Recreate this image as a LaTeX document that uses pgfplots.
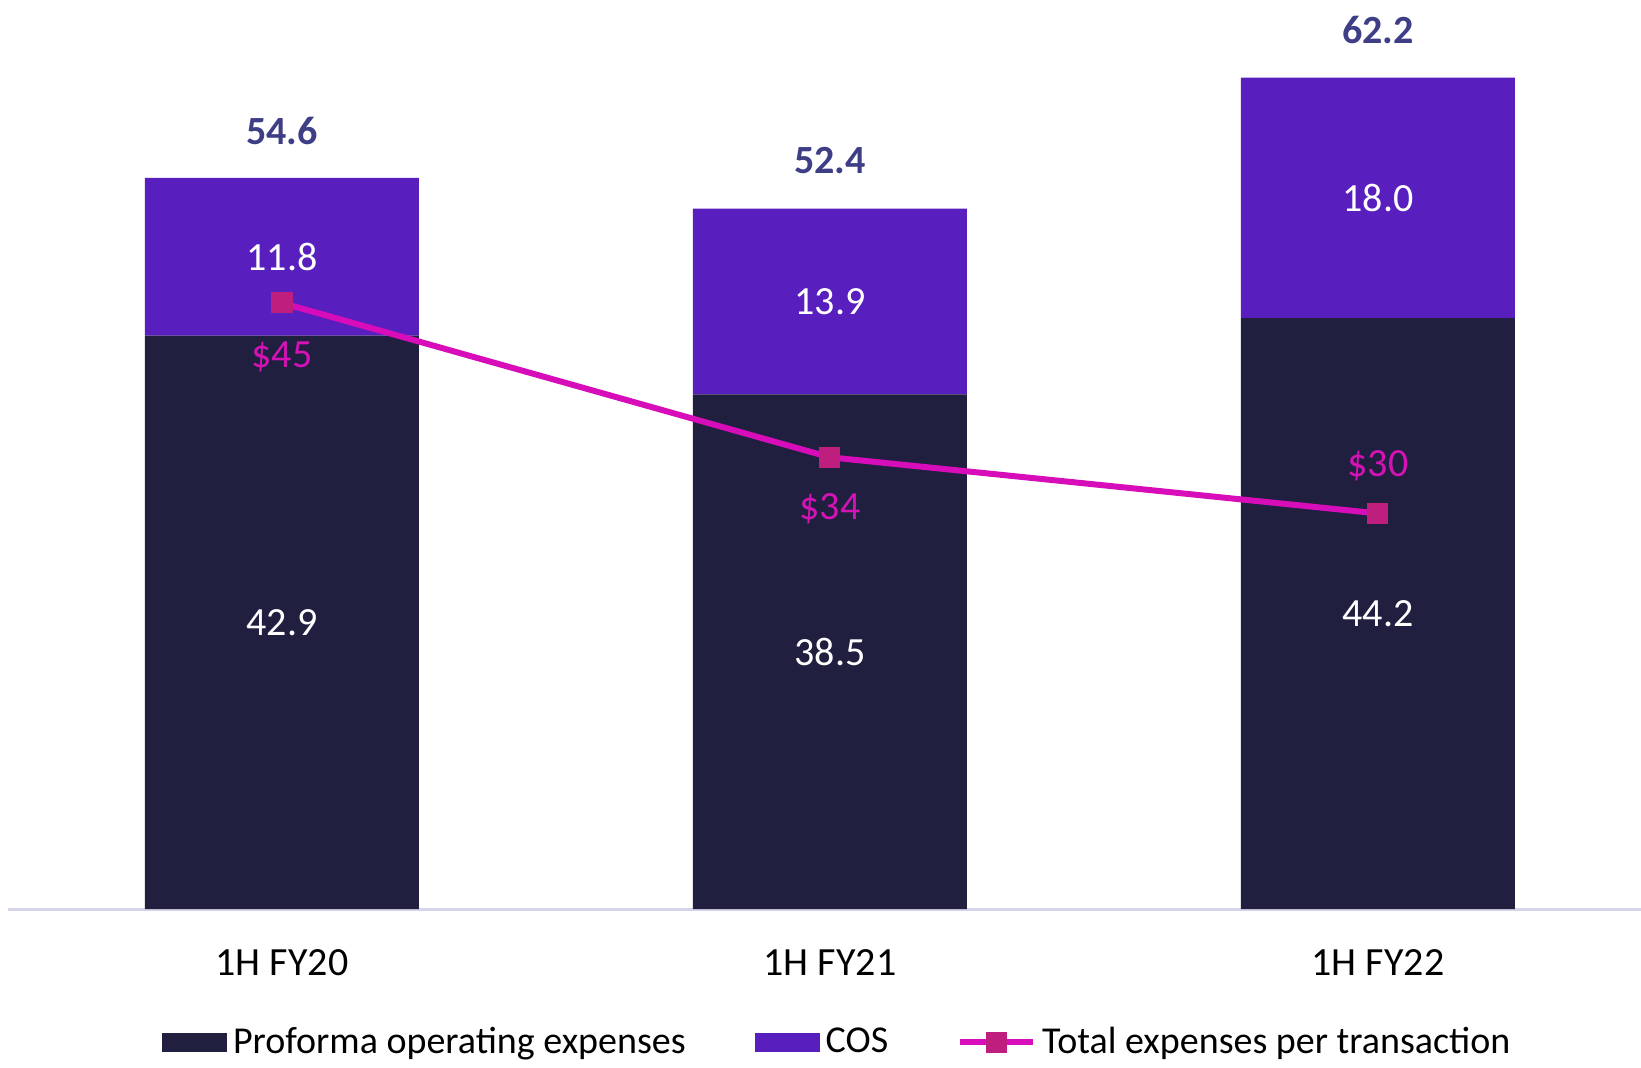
\documentclass[border=0pt]{standalone}
\usepackage{fontspec}
\setmainfont{Carlito}
\usepackage{pgfplots}
\usepackage{pgfplotstable}
\pgfplotsset{compat=1.18}

\definecolor{opexcol}{RGB}{32,31,64}
\definecolor{coscol}{RGB}{89,31,190}
\definecolor{linecol}{RGB}{214,13,185}
\definecolor{markcol}{RGB}{190,30,125}
\definecolor{totalcol}{RGB}{61,62,133}
\definecolor{perlabel}{RGB}{212,18,182}
\definecolor{axisline}{RGB}{212,212,234}

\newcommand{\lblfont}{\fontsize{20}{24}\selectfont}

\pgfplotsset{
  patchlegend/.style={legend image code/.code={%
    \fill[#1] (0pt,-4.75pt) rectangle (32.5pt,4.75pt);}},
  linelegend/.style={legend image code/.code={%
    \draw[##1, sharp plot, mark=none] (0pt,0pt) -- (36.5pt,0pt);
    \path[##1, sharp plot, only marks] plot coordinates {(18.25pt,0pt)};}},
  chartframe/.style={scale only axis, width=816.5pt, height=454.5pt,
    xmin=-0.5, xmax=2.48, clip=false},
  overlay/.style={chartframe, axis lines=none, ticks=none},
  seglabel/.style={draw=none, mark=none, point meta=explicit, nodes near coords,
    nodes near coords style={anchor=center, text=white, font=\lblfont}},
}

% expenses in $m, stacked per half-year
\pgfplotstableread{
x opex cos total
0 42.9 11.8 54.6
1 38.5 13.9 52.4
2 44.2 18.0 62.2
}\costs

% total expenses per transaction; dy places the label below or above the mark
\pgfplotstableread{
x per dy
0 45 -27
1 34 -25.5
2 30 24
}\pertxn

\begin{document}
\begin{tikzpicture}
\begin{axis}[
  chartframe, ymin=0, ymax=68,
  ybar stacked, bar width=0.5,
  axis x line*=bottom, axis y line=none,
  x axis line style={draw=axisline, line width=1.5pt, -},
  xtick={0,1,2}, xticklabels={1H FY20,1H FY21,1H FY22},
  major tick length=0pt,
  xticklabel style={anchor=center, yshift=-27pt, font=\lblfont},
  ytick=\empty,
  legend columns=3,
  legend style={draw=none, fill=none, at={(0.509,-0.1463)}, anchor=center,
    font=\fontsize{19}{23}\selectfont,
    /tikz/every even column/.append style={column sep=31.5pt},
    nodes={inner sep=3pt}},
]
\addplot[fill=opexcol, draw=none, patchlegend=opexcol]
  table[x=x, y=opex] {\costs};
\addlegendentry{Proforma operating expenses}
\addplot[fill=coscol, draw=none, patchlegend=coscol]
  table[x=x, y=cos] {\costs};
\addlegendentry{COS}
\addlegendimage{linelegend, color=linecol, line width=3pt, mark=square*, mark size=5pt,
  mark options={draw=markcol, fill=markcol, line width=0pt}}
\addlegendentry{Total expenses per transaction}
\coordinate (bbsw) at (rel axis cs:0,0);
\coordinate (bbne) at (rel axis cs:1,1);
\end{axis}

% segment values at the middle of each segment, totals above each stack
\begin{axis}[
  overlay, ymin=0, ymax=68,
  /pgf/number format/.cd, fixed, fixed zerofill, precision=1, assume math mode=true,
]
\addplot[seglabel] table[x=x, y expr=\thisrow{opex}/2, meta=opex] {\costs};
\addplot[seglabel] table[x=x, y expr=\thisrow{opex}+\thisrow{cos}/2, meta=cos] {\costs};
\addplot[draw=none, mark=none,
  point meta=explicit,
  nodes near coords,
  nodes near coords style={anchor=center, yshift=24pt, text=totalcol, font=\lblfont\bfseries}]
  table[x=x, y=total, meta=total] {\costs};
\end{axis}

% cost per transaction on its own scale
\begin{axis}[
  overlay, ymin=1.8, ymax=66.6,
  /pgf/number format/.cd, fixed, fixed zerofill, precision=0, assume math mode=true,
]
\addplot[color=linecol, line width=3pt, mark=square*, mark size=5pt,
  mark options={draw=markcol, fill=markcol, line width=0pt},
  point meta=explicit,
  visualization depends on={\thisrow{dy} \as \dy},
  nodes near coords={\$\pgfmathprintnumber{\pgfplotspointmeta}},
  nodes near coords style={anchor=center, yshift=\dy pt, text=perlabel, font=\lblfont}]
  table[x=x, y=per, meta=per] {\pertxn};
\end{axis}

\pgfresetboundingbox
\path[use as bounding box] ([xshift=-4pt,yshift=-79pt]bbsw) rectangle (bbne);
\end{tikzpicture}
\end{document}
